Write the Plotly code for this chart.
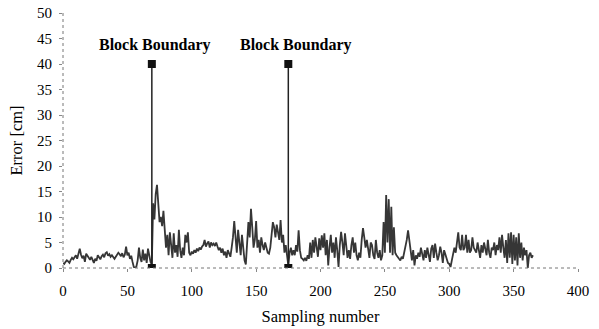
import plotly.graph_objects as go

error_cm = [
    1.0, 0.8, 1.2, 1.5, 1.3, 1.0, 1.6, 2.0, 1.7, 2.2,
    2.5, 1.8, 3.0, 3.8, 2.6, 1.9, 2.4, 1.2, 2.8, 2.3,
    2.0, 1.6, 2.2, 1.5, 1.0, 1.8, 1.4, 2.5, 2.0, 1.7,
    2.3, 2.6, 2.1, 2.9, 3.1, 2.4, 2.7, 2.2, 2.5, 2.0,
    1.8, 2.2, 2.6, 3.0, 2.7, 2.3, 2.9, 2.1, 2.6, 4.2,
    2.5, 3.0, 1.8, 2.4, 1.2, 0.2, 0.0, 0.3, 1.5, 4.0,
    2.0, 1.2, 3.6, 1.5, 2.8, 1.0, 3.8, 2.2, 1.2, 0.6,
    12.7, 9.5, 14.5, 16.3, 12.0, 9.0, 10.0, 8.2, 11.2, 7.5,
    4.0, 6.5, 2.5, 7.0, 3.5, 2.0, 6.8, 3.0, 4.5, 2.2,
    7.5, 3.5, 2.0, 4.0, 2.5, 6.5, 5.0, 7.0, 3.0, 2.5,
    3.2, 2.8, 3.5, 3.0, 3.8, 3.3, 4.0, 3.6, 4.2, 4.5,
    5.5, 4.2, 4.8, 5.2, 4.0, 5.0, 4.5, 4.8, 4.3, 5.0,
    4.2, 3.5, 4.0, 3.0, 3.8, 2.5, 3.2, 2.0, 3.5, 3.0,
    2.2, 4.0, 6.0, 9.2, 5.0, 3.0, 7.5, 4.0, 2.5, 6.5,
    3.0, 1.5, 0.7, 4.5, 9.0, 6.0, 11.6, 8.0, 4.0, 5.5,
    9.2, 4.0, 5.5, 3.0, 6.0, 4.5, 3.5, 5.0, 3.8, 3.0,
    2.8, 4.0, 6.5, 9.0, 8.0, 6.0, 8.5, 7.0, 5.5, 9.4,
    5.0, 6.5, 3.0, 4.5, 2.0, 0.5, 3.0, 4.0, 2.5, 3.5,
    2.5, 4.5, 3.2, 7.4, 3.5, 2.0, 1.8, 1.5, 2.0, 1.4,
    2.5, 1.8, 5.0, 2.0, 5.5, 3.0, 6.0, 4.5, 2.2, 5.8,
    3.5, 6.4, 4.0, 6.8, 2.5, 5.5, 0.5, 4.0, 6.5, 3.0,
    5.0, 2.0, 6.0, 3.5, 0.2, 4.5, 7.1, 5.0, 2.5, 6.8,
    4.0, 2.0, 3.5, 1.8, 4.5, 6.0, 3.0, 5.0, 2.5, 1.5,
    3.0, 2.0, 5.5, 7.8, 6.0, 4.0, 5.5, 3.5, 2.0, 5.0,
    4.5, 2.5, 1.8, 5.5, 3.0, 2.0, 3.5, 1.5, 2.5, 9.0,
    3.0, 14.3, 5.0, 13.5, 3.0, 12.0, 2.5, 8.0, 3.0, 2.5,
    2.0, 1.8, 1.5, 2.2, 1.8, 3.0, 4.5, 5.5, 7.4, 5.0,
    3.0, 1.5, 3.5, 0.5, 2.5, 1.8, 3.0, 2.2, 4.0, 2.5,
    1.5, 3.5, 2.0, 4.0, 2.5, 1.2, 3.8, 4.5, 2.0, 4.8,
    3.0, 1.5, 2.5, 4.2, 3.0, 1.0, 3.5, 2.5, 1.5, 1.0,
    0.8, 0.2, 1.5, 2.5, 4.0, 3.0, 5.0, 7.0, 4.0, 3.5,
    6.5, 3.5, 4.0, 6.5, 3.0, 5.5, 3.0, 3.5, 6.0, 4.0,
    3.5, 3.0, 5.0, 3.5, 2.0, 4.5, 3.0, 5.0, 3.8, 2.5,
    5.5, 3.0, 2.0, 4.0, 3.5, 5.0, 2.5, 4.5, 3.5, 6.0,
    3.0, 6.5, 4.0, 2.0, 5.5, 1.0, 6.8, 2.0, 7.0, 0.8,
    6.5, 1.5, 6.0, 0.5, 6.8, 2.0, 5.0, 1.5, 4.0, 2.5,
    3.5, 0.0, 2.5, 3.0, 2.0, 2.5,
]
sampling = list(range(len(error_cm)))

boundary_x = [69, 175]
boundary_y = [0, 40]
boundary_label = "Block Boundary"
label_pos = [(71.5, 43.8), (181, 43.8)]

x_ticks = [0, 50, 100, 150, 200, 250, 300, 350, 400]
y_ticks = [0, 5, 10, 15, 20, 25, 30, 35, 40, 45, 50]

serif = "Liberation Serif, Times New Roman, serif"

fig = go.Figure()
fig.add_trace(go.Scatter(
    x=sampling, y=error_cm, mode="lines",
    line=dict(color="#363636", width=1.8), showlegend=False,
))
for bx in boundary_x:
    fig.add_trace(go.Scatter(
        x=[bx, bx], y=boundary_y, mode="lines+markers",
        line=dict(color="#222222", width=1.5),
        marker=dict(symbol="square", size=8, color="#111111"),
        showlegend=False,
    ))
for lx, ly in label_pos:
    fig.add_annotation(x=lx, y=ly, text="<b>" + boundary_label + "</b>",
                       showarrow=False, font=dict(family=serif, size=16, color="#000"))

# dotted axis lines
fig.add_shape(type="line", xref="paper", yref="paper", x0=0, x1=0, y0=0, y1=1,
              line=dict(color="#777", width=1, dash="dot"))
fig.add_shape(type="line", xref="paper", yref="paper", x0=0, x1=1, y0=0, y1=0,
              line=dict(color="#777", width=1, dash="dot"))

fig.update_layout(
    width=599, height=329,
    margin=dict(l=63, r=21, t=13, b=61),
    paper_bgcolor="white", plot_bgcolor="white",
    font=dict(family=serif, size=15, color="#000"),
    xaxis=dict(range=[0, 400], tickvals=x_ticks, showgrid=False, zeroline=False,
               showline=False, ticks="outside", ticklen=3, tickcolor="#888",
               automargin=False, ticklabelstandoff=6,
               title=dict(text="Sampling number", font=dict(size=16.5), standoff=12),
               tickfont=dict(size=15)),
    yaxis=dict(range=[0, 50], tickvals=y_ticks, showgrid=False, zeroline=False,
               showline=False, ticks="outside", ticklen=3, tickcolor="#888",
               automargin=False, ticklabelstandoff=4,
               title=dict(text="Error [cm]", font=dict(size=16.5), standoff=10),
               tickfont=dict(size=15)),
)
fig.write_html(
    "out.html",
    config={"displayModeBar": False},
    post_script="document.body.style.margin='0';document.body.style.overflow='hidden';",
)
